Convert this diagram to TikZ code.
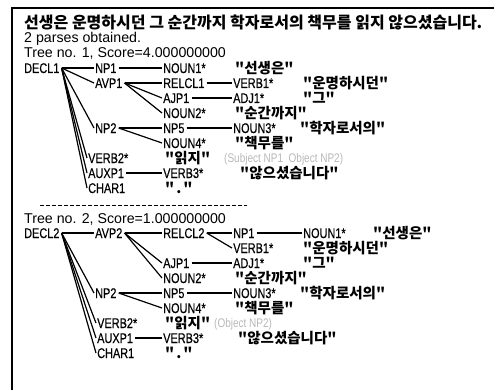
\documentclass[tikz,border=0pt]{standalone}
\usepackage{fontspec}
\setmainfont{Liberation Sans}
\newfontfamily\lab[FakeStretch=0.78,FakeBold=0.4]{Liberation Sans}
\newfontfamily\grayfont[FakeStretch=0.8]{Liberation Sans}
\newfontfamily\kr{Noto Sans CJK KR}
\begin{document}
\begin{tikzpicture}[x=1pt,y=-1pt,
  lbl/.style={font=\lab\fontsize{14}{16}\selectfont, inner sep=0pt, anchor=west, text height=10pt, text depth=0pt},
  hdr/.style={font=\fontsize{14.2}{16}\selectfont, inner sep=0pt, anchor=west, text height=10pt, text depth=0pt},
  kw/.style={font=\kr\bfseries\fontsize{14.5}{16}\selectfont, inner sep=0pt, anchor=west, text height=12pt, text depth=1pt},
  ttl/.style={font=\kr\bfseries\fontsize{16}{18}\selectfont, inner sep=0pt, anchor=west, text height=13pt, text depth=1pt},
  gry/.style={font=\grayfont\fontsize{12.5}{14}\selectfont, inner sep=0pt, anchor=west, text=black!28, text height=9pt, text depth=0pt},
  edge/.style={line width=1.2pt, black},
  frame/.style={line width=1.6pt, black}]
\useasboundingbox (0,0) rectangle (494,390);
\draw[frame] (12,390) -- (12,8) -- (494,8);
\node[ttl] (title) at (24,23) {선생은 운명하시던 그 순간까지 학자로서의 책무를 읽지 않으셨습니다.};
\node[hdr] (parses) at (24,38) {2 parses obtained.};
\node[hdr] (tree1) at (24,53) {Tree no. 1, Score=4.000000000};
% ---------- tree 1
\node[lbl] (a-decl) at (24,68) {DECL1};
\node[lbl] (a-np1) at (95,68) {NP1};
\node[lbl] (a-noun1) at (163,68) {NOUN1*};
\node[kw] (a-w1) at (235,68) {"선생은"};
\node[lbl] (a-avp) at (95,83) {AVP1};
\node[lbl] (a-relcl) at (163,83) {RELCL1};
\node[lbl] (a-verb1) at (233,83) {VERB1*};
\node[kw] (a-w2) at (303,83) {"운명하시던"};
\node[lbl] (a-ajp) at (163,98) {AJP1};
\node[lbl] (a-adj) at (233,98) {ADJ1*};
\node[kw] (a-w3) at (303,98) {"그"};
\node[lbl] (a-noun2) at (163,113) {NOUN2*};
\node[kw] (a-w4) at (235,113) {"순간까지"};
\node[lbl] (a-np2) at (95,128) {NP2};
\node[lbl] (a-np5) at (163,128) {NP5};
\node[lbl] (a-noun3) at (233,128) {NOUN3*};
\node[kw] (a-w5) at (300,128) {"학자로서의"};
\node[lbl] (a-noun4) at (163,143) {NOUN4*};
\node[kw] (a-w6) at (235,143) {"책무를"};
\node[lbl] (a-verb2) at (88,158) {VERB2*};
\node[kw] (a-w7) at (165,158) {"읽지"};
\node[gry] (a-role) at (224,158) {(Subject NP1 \ Object NP2)};
\node[lbl] (a-auxp) at (88,173) {AUXP1};
\node[lbl] (a-verb3) at (163,173) {VERB3*};
\node[kw] (a-w8) at (240,173) {"않으셨습니다"};
\node[lbl] (a-char) at (88,188) {CHAR1};
\node[kw] (a-w9) at (165,188) {"\kern2pt.\kern2pt"};
\foreach \c in {np1,avp,np2,verb2,auxp,char}
  \draw[edge] ([xshift=2pt]a-decl.east) -- ([xshift=-1pt]a-\c.west);
\draw[edge] ([xshift=2pt]a-np1.east) -- ([xshift=-1pt]a-noun1.west);
\foreach \c in {relcl,ajp,noun2}
  \draw[edge] ([xshift=2pt]a-avp.east) -- ([xshift=-1pt]a-\c.west);
\draw[edge] ([xshift=2pt]a-relcl.east) -- ([xshift=-1pt]a-verb1.west);
\draw[edge] ([xshift=2pt]a-ajp.east) -- ([xshift=-1pt]a-adj.west);
\foreach \c in {np5,noun4}
  \draw[edge] ([xshift=2pt]a-np2.east) -- ([xshift=-1pt]a-\c.west);
\draw[edge] ([xshift=2pt]a-np5.east) -- ([xshift=-1pt]a-noun3.west);
\draw[edge] ([xshift=2pt]a-auxp.east) -- ([xshift=-1pt]a-verb3.west);
% separator
\coordinate (sepL) at (40,205);
\coordinate (sepR) at (247,205);
\draw[line width=1pt, dash pattern=on 4pt off 2pt] (sepL) -- (sepR);
\node[hdr] (tree2) at (24,218) {Tree no. 2, Score=1.000000000};
% ---------- tree 2
\node[lbl] (b-decl) at (24,233) {DECL2};
\node[lbl] (b-avp) at (95,233) {AVP2};
\node[lbl] (b-relcl) at (163,233) {RELCL2};
\node[lbl] (b-np1) at (233,233) {NP1};
\node[lbl] (b-noun1) at (303,233) {NOUN1*};
\node[kw] (b-w1) at (373,233) {"선생은"};
\node[lbl] (b-verb1) at (233,248) {VERB1*};
\node[kw] (b-w2) at (303,248) {"운명하시던"};
\node[lbl] (b-ajp) at (163,263) {AJP1};
\node[lbl] (b-adj) at (233,263) {ADJ1*};
\node[kw] (b-w3) at (303,263) {"그"};
\node[lbl] (b-noun2) at (163,278) {NOUN2*};
\node[kw] (b-w4) at (235,278) {"순간까지"};
\node[lbl] (b-np2) at (95,293) {NP2};
\node[lbl] (b-np5) at (163,293) {NP5};
\node[lbl] (b-noun3) at (233,293) {NOUN3*};
\node[kw] (b-w5) at (300,293) {"학자로서의"};
\node[lbl] (b-noun4) at (163,308) {NOUN4*};
\node[kw] (b-w6) at (235,308) {"책무를"};
\node[lbl] (b-verb2) at (97,323) {VERB2*};
\node[kw] (b-w7) at (165,323) {"읽지"};
\node[gry] (b-role) at (214,323) {(Object NP2)};
\node[lbl] (b-auxp) at (97,338) {AUXP1};
\node[lbl] (b-verb3) at (163,338) {VERB3*};
\node[kw] (b-w8) at (238,338) {"않으셨습니다"};
\node[lbl] (b-char) at (97,353) {CHAR1};
\node[kw] (b-w9) at (165,353) {"\kern2pt.\kern2pt"};
\foreach \c in {avp,np2,verb2,auxp,char}
  \draw[edge] ([xshift=2pt]b-decl.east) -- ([xshift=-1pt]b-\c.west);
\foreach \c in {relcl,ajp,noun2}
  \draw[edge] ([xshift=2pt]b-avp.east) -- ([xshift=-1pt]b-\c.west);
\foreach \c in {np1,verb1}
  \draw[edge] ([xshift=2pt]b-relcl.east) -- ([xshift=-1pt]b-\c.west);
\draw[edge] ([xshift=2pt]b-np1.east) -- ([xshift=-1pt]b-noun1.west);
\draw[edge] ([xshift=2pt]b-ajp.east) -- ([xshift=-1pt]b-adj.west);
\foreach \c in {np5,noun4}
  \draw[edge] ([xshift=2pt]b-np2.east) -- ([xshift=-1pt]b-\c.west);
\draw[edge] ([xshift=2pt]b-np5.east) -- ([xshift=-1pt]b-noun3.west);
\draw[edge] ([xshift=2pt]b-auxp.east) -- ([xshift=-1pt]b-verb3.west);
\end{tikzpicture}
\end{document}
